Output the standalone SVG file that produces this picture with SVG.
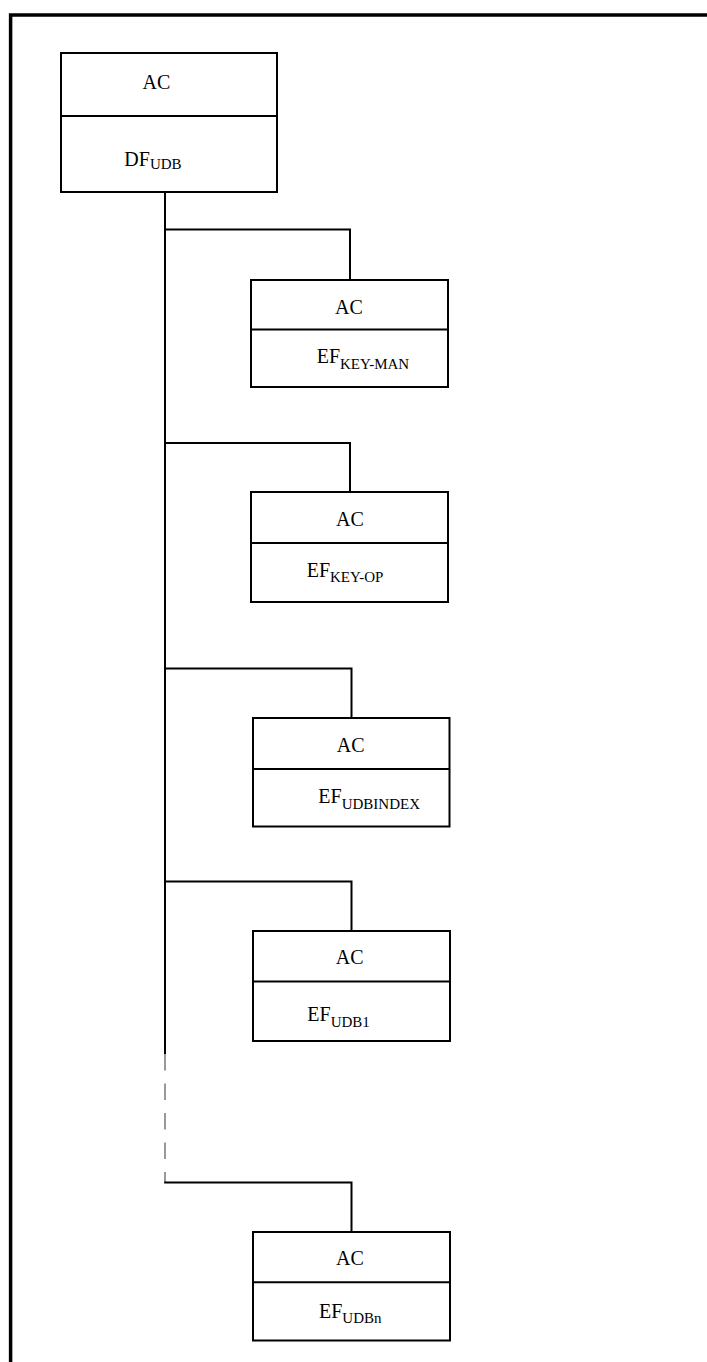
<svg xmlns="http://www.w3.org/2000/svg" width="707" height="1362" viewBox="0 0 707 1362">
<style>
.box{fill:#fff;stroke:#000;stroke-width:2}
.div{stroke:#000;stroke-width:2}
.c{fill:none;stroke:#000;stroke-width:2}
.d{fill:none;stroke:#808080;stroke-width:1.6;stroke-dasharray:16.5 13}
.t{font-family:"Liberation Serif","Times New Roman",serif;font-size:20px;fill:#000}
.s{font-size:15px}
</style>
<rect width="707" height="1362" fill="#fff"/>
<path d="M10.6,1362 V15 H707" fill="none" stroke="#000" stroke-width="3.5"/>
<g id="connectors">
<path class="c" d="M165,192 V1054"/>
<path class="d" d="M165,1054 V1183"/>
<path class="c" d="M165,229.5 H350 V280"/>
<path class="c" d="M165,443 H350 V492"/>
<path class="c" d="M165,668.5 H351.5 V718"/>
<path class="c" d="M165,881.5 H351.5 V931"/>
<path class="c" d="M164.2,1182.5 H351.5 V1232"/>
</g>
<g id="df_udb">
<rect class="box" x="61" y="53" width="216" height="139"/>
<line class="div" x1="61" y1="116" x2="277" y2="116"/>
<text class="t" x="142.5" y="89">AC</text>
<text class="t" x="124.3" y="165.5">DF<tspan class="s" dy="3.5">UDB</tspan></text>
</g>
<g id="ef_key_man">
<rect class="box" x="251" y="280" width="197" height="107"/>
<line class="div" x1="251" y1="329.5" x2="448" y2="329.5"/>
<text class="t" x="335" y="314">AC</text>
<text class="t" x="316.7" y="363.3">EF<tspan class="s" dy="6">KEY-MAN</tspan></text>
</g>
<g id="ef_key_op">
<rect class="box" x="251" y="492" width="197" height="110"/>
<line class="div" x1="251" y1="543" x2="448" y2="543"/>
<text class="t" x="336" y="526">AC</text>
<text class="t" x="306.7" y="576.7">EF<tspan class="s" dy="5.6">KEY-OP</tspan></text>
</g>
<g id="ef_udbindex">
<rect class="box" x="253" y="718" width="196.5" height="108.5"/>
<line class="div" x1="253" y1="769" x2="449.5" y2="769"/>
<text class="t" x="336.7" y="751.7">AC</text>
<text class="t" x="318.3" y="803.3">EF<tspan class="s" dy="5.7">UDBINDEX</tspan></text>
</g>
<g id="ef_udb1">
<rect class="box" x="253" y="931" width="197" height="110"/>
<line class="div" x1="253" y1="981.5" x2="450" y2="981.5"/>
<text class="t" x="335.7" y="964">AC</text>
<text class="t" x="307.3" y="1021">EF<tspan class="s" dy="5.7">UDB1</tspan></text>
</g>
<g id="ef_udbn">
<rect class="box" x="253" y="1232" width="197" height="108.5"/>
<line class="div" x1="253" y1="1282.3" x2="450" y2="1282.3"/>
<text class="t" x="336" y="1265">AC</text>
<text class="t" x="319" y="1317.7">EF<tspan class="s" dy="5.7">UDBn</tspan></text>
</g>
</svg>
